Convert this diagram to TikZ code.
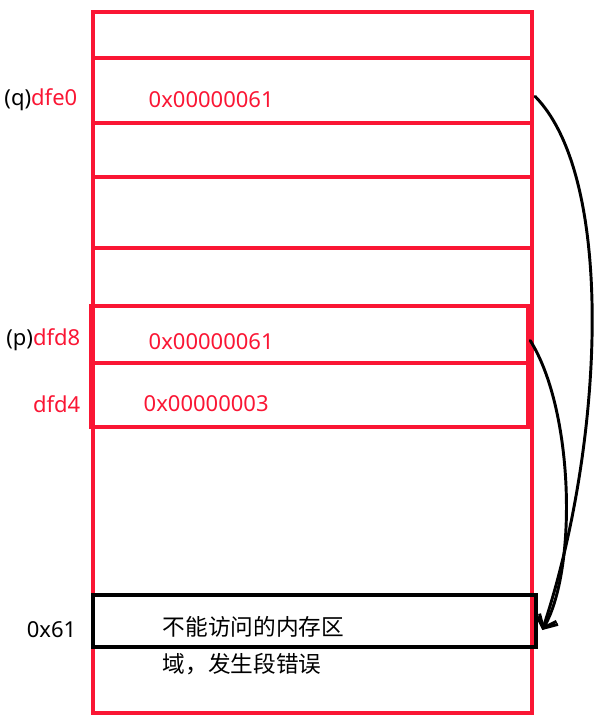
\documentclass[tikz,border=0pt]{standalone}
\usepackage{fontspec}
\setmainfont{Noto Sans}
\newfontfamily\cjk{Noto Sans CJK SC}
\usepackage{xcolor}
\usetikzlibrary{arrows.meta}
\definecolor{memred}{RGB}{250,22,52}
\tikzset{
  memcell/.style={
    rectangle,
    draw=memred,
    line width=3.3pt,
    inner sep=0pt,
    minimum width=329.25pt
  },
  memline/.style={
    draw=memred,
    line width=3.3pt
  },
  badcell/.style={
    rectangle,
    draw=black,
    line width=3.5pt,
    inner sep=0pt,
    minimum width=332.25pt,
    minimum height=39pt
  },
  addrlabel/.style={
    anchor=east,
    text=memred,
    font=\fontsize{16.5}{20}\selectfont
  },
  valtext/.style={
    anchor=west,
    text=memred,
    font=\fontsize{16.5}{20}\selectfont
  },
  ptrarrow/.style={
    -{Straight Barb[length=8pt,width=16pt]},
    line width=2.2pt,
    draw=black,
    line cap=round
  }
}

\begin{document}
\begin{tikzpicture}[x=0.75pt,y=-0.75pt]
\useasboundingbox (0,0) rectangle (603,723);

% stack frame
\draw[memline] (93,12) rectangle (532,713);
\foreach \y in {177,248}
  \draw[memline] (93,\y) -- (532,\y);

% cells
\node[memcell, minimum height=48.75pt] (qcell) at (312.5,90.5) {};
\node[memcell, minimum width=327.75pt, minimum height=42.75pt] (pcell) at (309.5,334.5) {};
\node[memcell, minimum width=327.75pt, minimum height=48pt] (dcell) at (309.5,395) {};
\node[badcell] (bad) at (314.5,621) {};

% values
\node[valtext] (qval) at (144,100) {0x00000061};
\node[valtext] (pval) at (144,342) {0x00000061};
\node[valtext] (dval) at (139,404) {0x00000003};
\node[anchor=west, align=left, font=\cjk\fontsize{17}{27.75}\selectfont] (badtext) at (158,645.5) {不能访问的内存区\\域，发生段错误};

% addresses
\node[addrlabel] (qaddr) at (82,100) {\textcolor{black}{(q)}dfe0};
\node[addrlabel] (paddr) at (85,340) {\textcolor{black}{(p)}dfd8};
\node[addrlabel] (daddr) at (85,404) {dfd4};
\node[addrlabel, text=black] (badaddr) at (81,630) {0x61};

% pointers
\draw[ptrarrow] (qcell.east) ++(1,6) .. controls +(82,84) and +(60,-180) .. ([shift={(4,9)}]bad.east);
\draw[ptrarrow] (pcell.east) ++(0,6) .. controls +(44,70) and +(35,-60) .. ([shift={(4,9)}]bad.east);
\end{tikzpicture}
\end{document}
